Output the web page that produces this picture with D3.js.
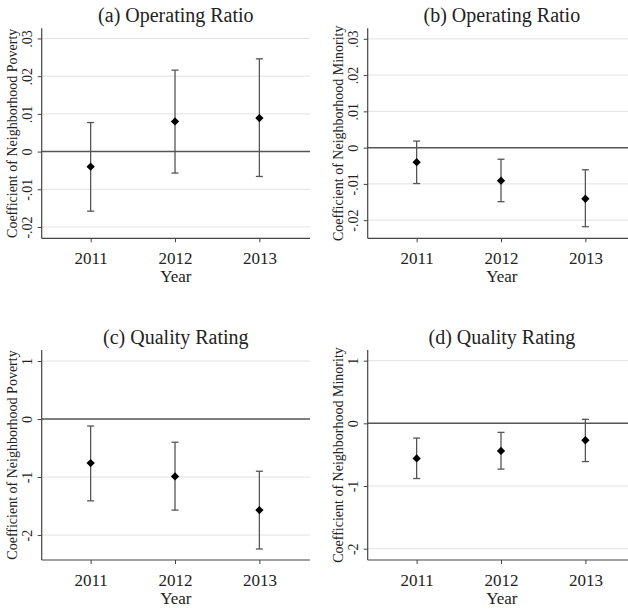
<!DOCTYPE html>
<html>
<head>
<meta charset="utf-8">
<script src="https://cdn.jsdelivr.net/npm/d3@7/dist/d3.min.js"></script>
<style>
  html, body { margin: 0; padding: 0; background: #fff; }
  svg { display: block; }
  text { font-family: "Liberation Serif", "Times New Roman", serif; fill: #222; }
</style>
</head>
<body>
<svg id="chart" width="628" height="609"></svg>
<script>
// ---- Data ----
const years = [2011, 2012, 2013];
const titles = ["(a) Operating Ratio", "(b) Operating Ratio", "(c) Quality Rating", "(d) Quality Rating"];
const yLabels = ["Coefficient of Neighborhood Poverty", "Coefficient of Neighborhood Minority",
                 "Coefficient of Neighborhood Poverty", "Coefficient of Neighborhood Minority"];

const estA = [-0.0040, 0.0080, 0.0089];
const lowA = [-0.0158, -0.0057, -0.0066];
const highA = [0.0077, 0.0216, 0.0246];

const estB = [-0.0040, -0.0091, -0.0141];
const lowB = [-0.0099, -0.0149, -0.0218];
const highB = [0.0018, -0.0032, -0.0061];

const estC = [-0.76, -0.99, -1.57];
const lowC = [-1.41, -1.57, -2.24];
const highC = [-0.12, -0.40, -0.90];

const estD = [-0.56, -0.44, -0.27];
const lowD = [-0.88, -0.73, -0.61];
const highD = [-0.235, -0.144, 0.064];

const ticksOR = [-0.02, -0.01, 0, 0.01, 0.02, 0.03];
const ticksOR_labels = ["-.02", "-.01", "0", ".01", ".02", ".03"];
const ticksQR = [-2, -1, 0, 1];
const ticksQR_labels = ["-2", "-1", "0", "1"];

const domainsY = [[-0.023, 0.0327], [-0.025, 0.0329], [-2.43, 1.19], [-2.18, 1.17]];
const domainX = [2010.42, 2013.6];

const panels = [
  { est: estA, low: lowA, high: highA, ticks: ticksOR, tickLabels: ticksOR_labels },
  { est: estB, low: lowB, high: highB, ticks: ticksOR, tickLabels: ticksOR_labels },
  { est: estC, low: lowC, high: highC, ticks: ticksQR, tickLabels: ticksQR_labels },
  { est: estD, low: lowD, high: highD, ticks: ticksQR, tickLabels: ticksQR_labels }
];

// ---- Layout ----
const svg = d3.select("#chart");
const origins = [[41.7, 28.3], [367.7, 28.3], [41.7, 350], [367.7, 350]];
const plotW = 268.3, plotH = 210;

panels.forEach((p, i) => {
  const [ox, oy] = origins[i];
  const g = svg.append("g").attr("transform", `translate(${ox},${oy})`);
  const x = d3.scaleLinear().domain(domainX).range([0, plotW]);
  const y = d3.scaleLinear().domain(domainsY[i]).range([plotH, 0]);

  // gridlines
  g.selectAll("line.grid").data(p.ticks.filter(t => t !== 0)).join("line")
    .attr("class", "grid")
    .attr("x1", 0).attr("x2", plotW)
    .attr("y1", d => y(d)).attr("y2", d => y(d))
    .attr("stroke", "#e2e2e2").attr("stroke-width", 1);

  // zero reference line
  g.append("line")
    .attr("x1", 0).attr("x2", plotW)
    .attr("y1", y(0)).attr("y2", y(0))
    .attr("stroke", "#555").attr("stroke-width", 1.5);

  // y axis
  const yAxis = d3.axisLeft(y).tickValues(p.ticks)
    .tickFormat((d, k) => p.tickLabels[k]).tickSize(4).tickPadding(0);
  const ya = g.append("g").call(yAxis);
  ya.attr("font-family", null).attr("font-size", null);
  ya.select(".domain").attr("stroke", "#444").attr("stroke-width", 1.2)
    .attr("d", `M0,0V${plotH}`);
  ya.selectAll(".tick line").attr("stroke", "#444");
  ya.selectAll(".tick text")
    .attr("x", 0).attr("dy", 0)
    .attr("transform", "translate(-10,0) rotate(-90)")
    .attr("text-anchor", "middle")
    .style("font-size", "14px")
    .attr("fill", "#222");

  // x axis
  const xAxis = d3.axisBottom(x).tickValues(years).tickFormat(d3.format("d"))
    .tickSize(4).tickPadding(8);
  const xa = g.append("g").attr("transform", `translate(0,${plotH})`).call(xAxis);
  xa.attr("font-family", null).attr("font-size", null);
  xa.select(".domain").attr("stroke", "#444").attr("stroke-width", 1.2)
    .attr("d", `M0,0H${plotW}`);
  xa.selectAll(".tick line").attr("stroke", "#444");
  xa.selectAll(".tick text")
    .attr("y", 0).attr("dy", 0)
    .attr("transform", "translate(0,25.5)")
    .style("font-size", "17px")
    .attr("fill", "#222");

  // error bars
  const capW = 3.5;
  const eb = g.selectAll("g.eb").data(years).join("g").attr("class", "eb");
  eb.append("line")
    .attr("x1", d => x(d)).attr("x2", d => x(d))
    .attr("y1", (d, k) => y(p.low[k])).attr("y2", (d, k) => y(p.high[k]))
    .attr("stroke", "#555").attr("stroke-width", 1.3);
  eb.append("line")
    .attr("x1", d => x(d) - capW).attr("x2", d => x(d) + capW)
    .attr("y1", (d, k) => y(p.low[k])).attr("y2", (d, k) => y(p.low[k]))
    .attr("stroke", "#555").attr("stroke-width", 1.3);
  eb.append("line")
    .attr("x1", d => x(d) - capW).attr("x2", d => x(d) + capW)
    .attr("y1", (d, k) => y(p.high[k])).attr("y2", (d, k) => y(p.high[k]))
    .attr("stroke", "#555").attr("stroke-width", 1.3);

  // point estimates (diamonds)
  const diamond = d3.symbol().type(d3.symbolDiamond2 || d3.symbolDiamond).size(44);
  g.selectAll("path.pt").data(years).join("path")
    .attr("class", "pt")
    .attr("d", diamond)
    .attr("transform", (d, k) => `translate(${x(d)},${y(p.est[k])})`)
    .attr("fill", "#000");

  // title
  g.append("text")
    .attr("x", plotW / 2).attr("y", -6.5)
    .attr("text-anchor", "middle")
    .style("font-size", "20px")
    .text(titles[i]);

  // x label
  g.append("text")
    .attr("x", plotW / 2).attr("y", plotH + 44)
    .attr("text-anchor", "middle")
    .style("font-size", "17px")
    .text("Year");

  // y label
  g.append("text")
    .attr("transform", `translate(-25,${plotH / 2}) rotate(-90)`)
    .attr("text-anchor", "middle")
    .style("font-size", "14px")
    .text(yLabels[i]);
});
</script>
</body>
</html>
